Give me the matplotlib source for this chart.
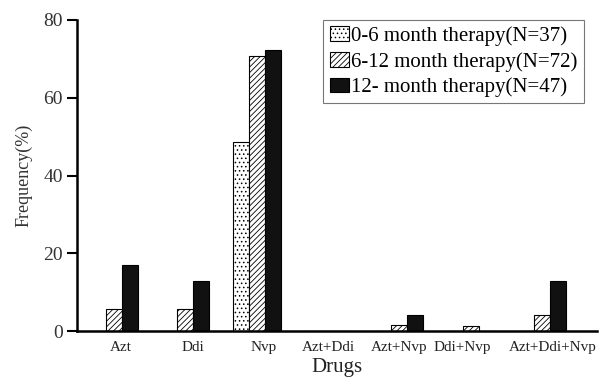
import numpy as np
import matplotlib
matplotlib.use("Agg")
import matplotlib.pyplot as plt

plt.rcParams['font.family'] = ['Liberation Serif', 'DejaVu Serif']
plt.rcParams['hatch.linewidth'] = 0.6

drugs = ["Azt", "Ddi", "Nvp", "Azt+Ddi", "Azt+Nvp", "Ddi+Nvp", "Azt+Ddi+Nvp"]
m0_6 = [0, 0, 48.7, 0, 0, 0, 0]
m6_12 = [5.7, 5.7, 70.8, 0, 1.6, 1.4, 4.1]
m12 = [17.0, 12.8, 72.3, 0, 4.1, 0, 12.8]
labels = ["0-6 month therapy(N=37)", "6-12 month therapy(N=72)",
          "12- month therapy(N=47)"]

fig = plt.figure(figsize=(6.03, 3.83), dpi=100)
ax = fig.add_axes([77 / 603, 1 - 331 / 383, (597 - 77) / 603, (331 - 20) / 383])

x = np.arange(len(drugs))
w = 0.225
ax.bar(x - w, m0_6, w, color="white", edgecolor="black", hatch="....",
       linewidth=0.8, label=labels[0])
ax.bar(x, m6_12, w, color="white", edgecolor="black", hatch="//////",
       linewidth=0.8, label=labels[1])
ax.bar(x + w, m12, w, color="#111111", edgecolor="black",
       linewidth=0.8, label=labels[2])

ax.set_xlim(-0.52, 6.77)
ax.set_ylim(0, 80)
ax.set_yticks([0, 20, 40, 60, 80])
# label positions a little off the group centres, as in the original
nudge = np.array([0.1, 0.1, 0.1, 0.0, 0.0, -0.12, 0.15])
ax.set_xticks(x + nudge)
ax.set_xticklabels(drugs, fontsize=11, color="#222222")
ax.tick_params(axis="x", length=0, pad=7)
ax.tick_params(axis="y", direction="out", length=7, width=1.5,
               labelsize=14, pad=3, labelcolor="#333333")
for s in ["top", "right"]:
    ax.spines[s].set_visible(False)
for s in ["left", "bottom"]:
    ax.spines[s].set_linewidth(1.8)

ax.set_ylabel("Frequency(%)", fontsize=13, color="#333333", labelpad=8)
ax.set_xlabel("Drugs", fontsize=15, labelpad=3, color="#222222")

leg = ax.legend(loc="upper right", bbox_to_anchor=(0.975, 1.0), fontsize=15,
                frameon=True, fancybox=False, handlelength=0.95, handleheight=0.7,
                handletextpad=0.1, borderpad=0.3, labelspacing=0.28,
                borderaxespad=0)
leg.get_frame().set_edgecolor("#555555")
leg.get_frame().set_linewidth(0.8)

plt.savefig("out.png", dpi=100)
